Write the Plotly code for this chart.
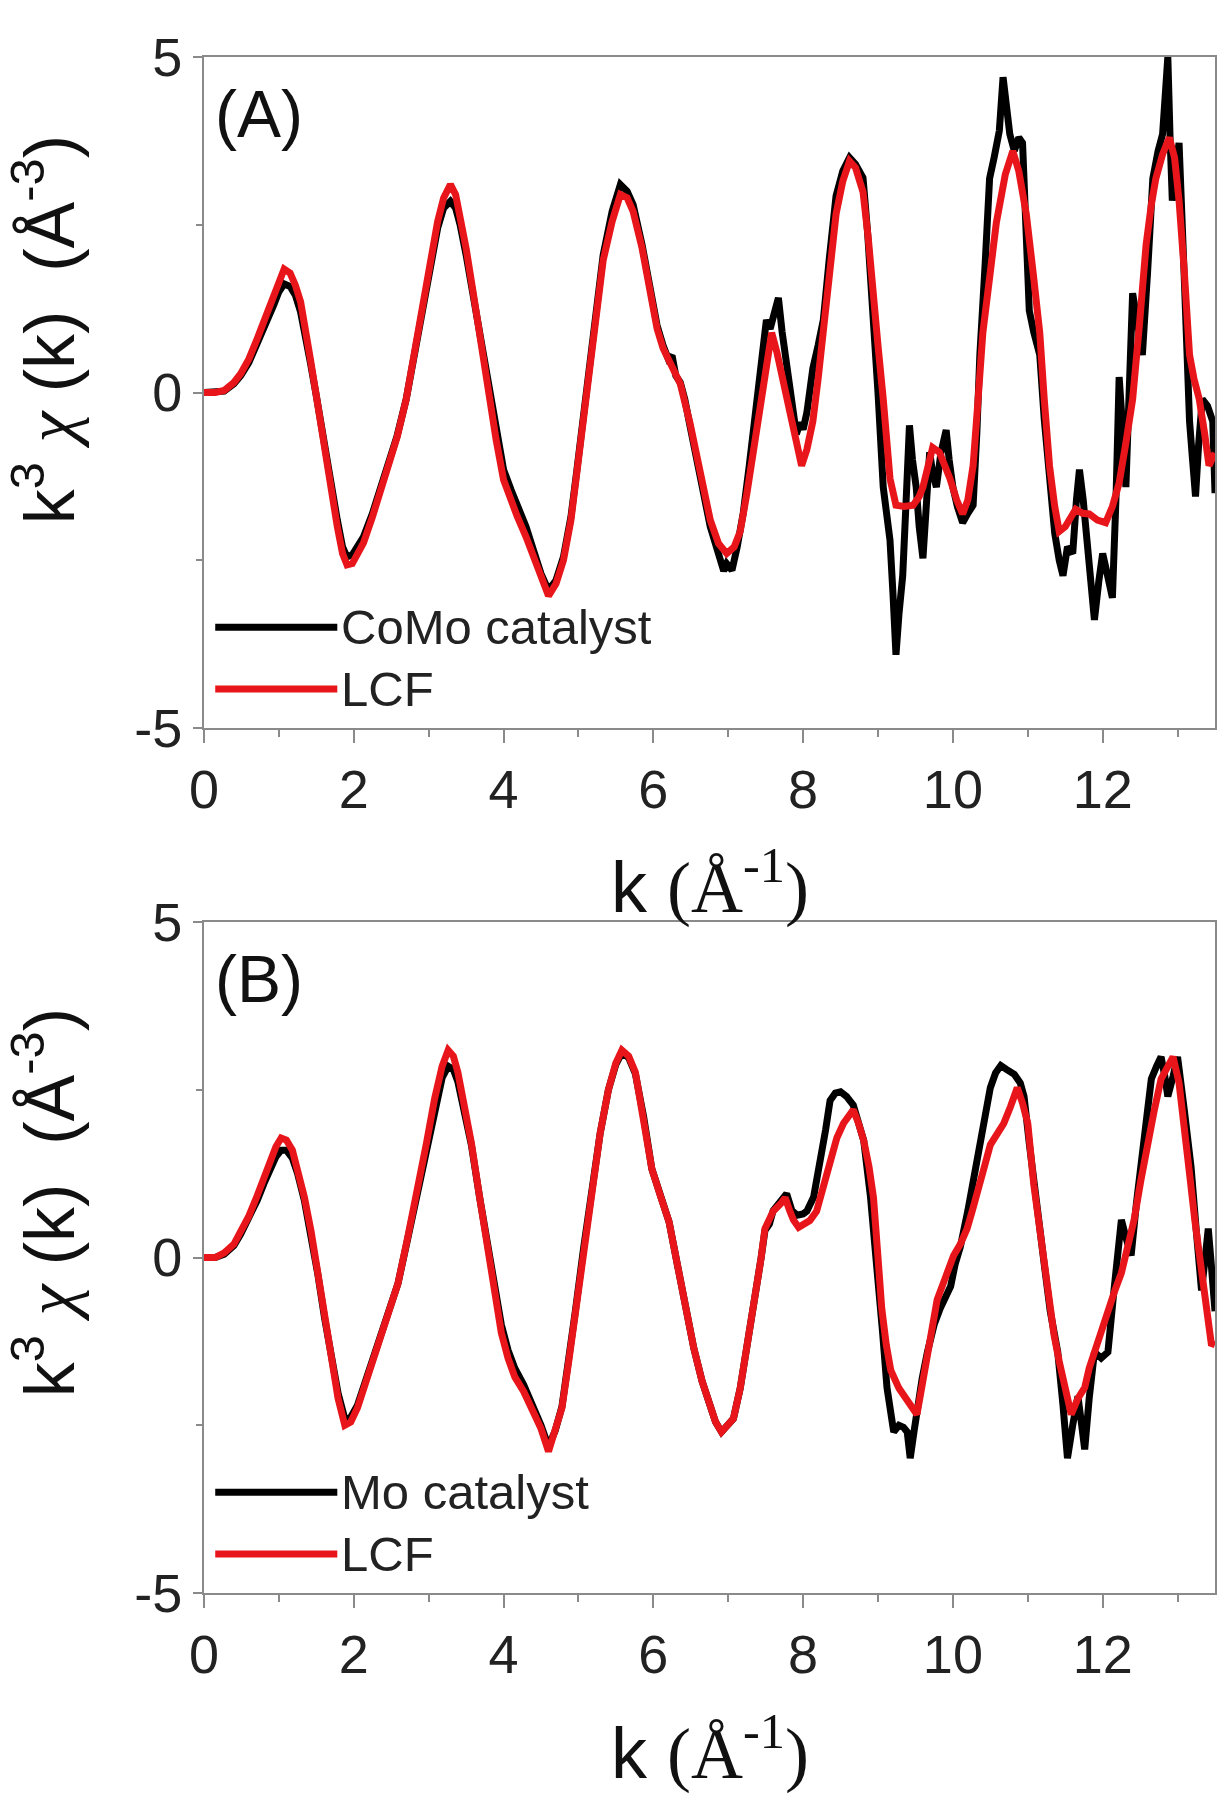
import plotly.graph_objects as go

# ---------------- Data ----------------
# Panel A: LCF
kA_fit = [0.0,0.15,0.27,0.4,0.49,0.6,0.71,0.82,0.93,1.0,1.07,1.15,1.22,1.29,1.36,1.42,1.5,1.6,1.7,1.78,1.85,1.91,1.98,2.05,2.13,2.25,2.36,2.47,2.58,2.7,2.8,2.9,3.02,3.12,3.2,3.29,3.36,3.42,3.5,3.6,3.7,3.82,3.9,4.0,4.1,4.18,4.3,4.4,4.5,4.6,4.7,4.8,4.9,4.98,5.08,5.16,5.25,5.33,5.45,5.56,5.65,5.73,5.85,5.96,6.05,6.13,6.25,6.36,6.49,6.58,6.67,6.76,6.87,6.98,7.08,7.16,7.25,7.33,7.4,7.47,7.53,7.58,7.65,7.73,7.8,7.87,7.93,7.98,8.05,8.13,8.2,8.27,8.35,8.44,8.53,8.62,8.7,8.8,8.87,8.93,9.0,9.07,9.12,9.16,9.24,9.35,9.47,9.55,9.6,9.67,9.73,9.82,9.9,9.96,10.05,10.13,10.2,10.27,10.33,10.4,10.5,10.58,10.7,10.8,10.88,10.98,11.07,11.16,11.22,11.29,11.36,11.42,11.5,11.57,11.64,11.73,11.82,11.93,12.04,12.13,12.22,12.31,12.4,12.49,12.58,12.65,12.71,12.8,12.89,12.96,13.02,13.09,13.16,13.22,13.29,13.36,13.42,13.5]
vA_fit = [0.0,0.0,0.03,0.15,0.28,0.5,0.8,1.12,1.45,1.7,1.84,1.78,1.6,1.35,0.95,0.5,-0.05,-0.8,-1.5,-2.0,-2.4,-2.57,-2.55,-2.42,-2.24,-1.85,-1.45,-1.05,-0.66,-0.1,0.53,1.2,1.97,2.55,2.9,3.1,2.95,2.63,2.15,1.45,0.7,-0.13,-0.7,-1.3,-1.62,-1.84,-2.15,-2.43,-2.75,-3.03,-2.85,-2.5,-1.9,-1.18,-0.25,0.53,1.3,1.97,2.55,2.95,2.9,2.7,2.15,1.45,0.95,0.66,0.4,0.13,-0.46,-0.95,-1.45,-1.9,-2.25,-2.4,-2.3,-2.07,-1.5,-0.89,-0.35,0.16,0.6,0.89,0.6,0.16,-0.2,-0.56,-0.85,-1.09,-0.85,-0.43,0.2,0.89,1.8,2.66,3.15,3.45,3.35,2.99,2.3,1.48,0.7,-0.1,-0.8,-1.28,-1.68,-1.7,-1.68,-1.55,-1.41,-1.1,-0.82,-0.89,-1.1,-1.28,-1.6,-1.81,-1.6,-1.09,-0.2,0.89,1.8,2.53,3.25,3.6,3.3,2.66,1.8,0.89,-0.1,-1.09,-1.7,-2.07,-2.0,-1.85,-1.74,-1.8,-1.81,-1.9,-1.94,-1.7,-1.35,-0.75,-0.1,1.0,2.2,2.8,3.19,3.55,3.8,3.5,2.86,1.8,0.56,0.2,-0.1,-0.6,-1.09,-0.9]

# Panel A: CoMo catalyst
kA_exp = [0.0,0.15,0.27,0.4,0.49,0.6,0.71,0.82,0.93,1.0,1.07,1.15,1.22,1.29,1.36,1.42,1.5,1.6,1.7,1.78,1.85,1.91,1.98,2.05,2.13,2.25,2.36,2.47,2.58,2.7,2.8,2.9,3.02,3.12,3.2,3.29,3.36,3.42,3.5,3.6,3.7,3.82,3.9,4.0,4.1,4.18,4.3,4.4,4.5,4.6,4.7,4.8,4.9,4.98,5.08,5.16,5.25,5.33,5.45,5.56,5.65,5.73,5.85,5.96,6.05,6.13,6.2,6.25,6.3,6.36,6.42,6.49,6.58,6.67,6.76,6.87,6.94,6.98,7.05,7.12,7.2,7.28,7.36,7.44,7.51,7.56,7.62,7.67,7.72,7.76,7.82,7.87,7.91,7.96,8.0,8.05,8.13,8.2,8.27,8.35,8.44,8.53,8.62,8.7,8.8,8.86,8.93,9.0,9.07,9.12,9.16,9.2,9.24,9.28,9.33,9.38,9.42,9.46,9.51,9.55,9.6,9.65,9.69,9.73,9.78,9.84,9.91,9.95,10.0,10.06,10.13,10.2,10.27,10.32,10.36,10.43,10.49,10.55,10.62,10.67,10.72,10.76,10.82,10.88,10.93,10.98,11.02,11.08,11.16,11.22,11.29,11.36,11.42,11.47,11.53,11.6,11.65,11.69,11.74,11.78,11.84,11.89,11.95,12.0,12.06,12.13,12.18,12.22,12.27,12.31,12.36,12.4,12.47,12.53,12.6,12.67,12.74,12.8,12.84,12.87,12.9,12.93,12.97,13.02,13.08,13.12,13.16,13.2,13.24,13.28,13.33,13.4,13.47,13.5]
vA_exp = [0.0,0.0,0.02,0.13,0.25,0.45,0.72,1.0,1.3,1.5,1.62,1.58,1.45,1.2,0.85,0.45,-0.05,-0.75,-1.4,-1.9,-2.3,-2.45,-2.42,-2.3,-2.15,-1.8,-1.42,-1.02,-0.64,-0.1,0.5,1.15,1.9,2.45,2.75,2.85,2.75,2.5,2.05,1.4,0.7,-0.1,-0.6,-1.15,-1.45,-1.65,-2.0,-2.35,-2.7,-2.95,-2.8,-2.45,-1.85,-1.15,-0.2,0.55,1.35,2.05,2.7,3.1,3.0,2.8,2.2,1.5,1.0,0.7,0.5,0.55,0.25,0.15,-0.1,-0.5,-0.95,-1.5,-2.0,-2.45,-2.66,-2.55,-2.65,-2.3,-1.8,-1.1,-0.4,0.3,1.08,0.95,1.2,1.41,0.9,0.56,0.0,-0.4,-0.62,-0.45,-0.55,-0.3,0.36,0.7,1.08,2.0,2.93,3.3,3.5,3.4,3.2,2.4,1.35,0.0,-1.41,-1.9,-2.2,-3.0,-3.91,-3.3,-2.73,-1.5,-0.49,-1.0,-1.41,-2.0,-2.47,-1.6,-0.89,-1.2,-1.41,-0.9,-0.56,-1.0,-1.41,-1.7,-1.94,-1.8,-1.68,-0.6,0.56,1.9,3.19,3.5,3.9,4.7,4.2,3.85,3.6,3.8,3.72,2.6,1.22,0.9,0.56,-0.4,-1.41,-2.1,-2.5,-2.73,-2.3,-2.4,-1.6,-1.15,-1.6,-2.07,-2.8,-3.39,-2.8,-2.4,-2.7,-3.06,-1.5,0.23,-0.6,-1.41,0.2,1.48,1.0,0.56,1.8,3.19,3.6,3.85,4.5,5.0,3.8,2.86,3.3,3.72,2.0,0.5,-0.43,-1.0,-1.55,-0.8,-0.1,-0.2,-0.43,-1.5]

# Panel B: LCF
kB_fit = [0.0,0.15,0.27,0.4,0.49,0.6,0.71,0.8,0.89,0.96,1.03,1.1,1.18,1.25,1.34,1.43,1.52,1.61,1.7,1.79,1.88,1.96,2.05,2.18,2.32,2.45,2.59,2.72,2.86,2.97,3.08,3.18,3.26,3.33,3.39,3.48,3.57,3.68,3.79,3.88,3.97,4.06,4.15,4.27,4.38,4.5,4.6,4.69,4.78,4.87,4.96,5.07,5.18,5.29,5.4,5.5,5.58,5.67,5.76,5.87,5.98,6.1,6.21,6.32,6.43,6.54,6.65,6.75,6.83,6.91,7.0,7.07,7.16,7.25,7.32,7.38,7.44,7.49,7.6,7.7,7.76,7.82,7.87,7.94,8.0,8.09,8.18,8.27,8.36,8.45,8.54,8.61,8.67,8.74,8.81,8.88,8.94,9.0,9.05,9.11,9.17,9.28,9.39,9.46,9.52,9.59,9.66,9.73,9.79,9.9,10.01,10.1,10.19,10.26,10.33,10.42,10.5,10.59,10.68,10.77,10.86,10.93,11.0,11.08,11.15,11.22,11.29,11.35,11.42,11.49,11.58,11.67,11.76,11.82,11.89,11.98,12.07,12.16,12.25,12.34,12.42,12.51,12.6,12.69,12.78,12.86,12.94,13.02,13.09,13.16,13.23,13.3,13.36,13.42,13.45,13.5]
vB_fit = [0.0,0.0,0.07,0.2,0.39,0.62,0.92,1.2,1.45,1.65,1.78,1.75,1.6,1.32,0.9,0.39,-0.25,-0.92,-1.55,-2.1,-2.5,-2.45,-2.24,-1.8,-1.32,-0.85,-0.39,0.3,1.05,1.7,2.37,2.85,3.09,3.0,2.76,2.25,1.71,0.9,0.13,-0.5,-1.12,-1.5,-1.78,-2.0,-2.24,-2.55,-2.89,-2.6,-2.24,-1.55,-0.79,0.15,1.05,1.85,2.5,2.9,3.09,3.0,2.76,2.1,1.32,0.9,0.53,-0.1,-0.79,-1.35,-1.84,-2.2,-2.45,-2.6,-2.5,-2.4,-1.95,-1.35,-0.9,-0.43,0.0,0.43,0.69,0.8,0.89,0.7,0.56,0.45,0.49,0.55,0.69,1.05,1.48,1.78,2.0,2.12,2.2,2.0,1.74,1.35,0.89,0.0,-0.76,-1.3,-1.68,-1.95,-2.14,-2.25,-2.34,-1.9,-1.41,-1.0,-0.63,-0.3,0.03,0.2,0.43,0.7,0.95,1.35,1.68,1.85,2.0,2.25,2.53,2.3,2.0,1.09,0.5,-0.1,-0.65,-1.15,-1.55,-1.94,-2.34,-2.1,-1.94,-1.65,-1.41,-1.1,-0.76,-0.5,-0.23,0.15,0.56,1.15,1.74,2.2,2.66,2.85,2.99,2.6,2.0,1.25,0.56,0.0,-0.43,-1.0,-1.28,-1.3]

# Panel B: Mo catalyst
kB_exp = [0.0,0.15,0.27,0.4,0.49,0.6,0.71,0.8,0.89,0.96,1.03,1.1,1.18,1.25,1.34,1.43,1.52,1.61,1.7,1.79,1.88,1.96,2.05,2.18,2.32,2.45,2.59,2.72,2.86,2.97,3.08,3.18,3.26,3.33,3.39,3.48,3.57,3.68,3.79,3.88,3.97,4.06,4.15,4.27,4.38,4.5,4.6,4.69,4.78,4.87,4.96,5.07,5.18,5.29,5.4,5.5,5.58,5.67,5.76,5.87,5.98,6.1,6.21,6.32,6.43,6.54,6.65,6.75,6.83,6.91,7.0,7.07,7.16,7.25,7.32,7.38,7.44,7.49,7.55,7.6,7.7,7.78,7.85,7.92,8.0,8.05,8.14,8.23,8.3,8.36,8.43,8.5,8.58,8.67,8.74,8.81,8.9,8.99,9.06,9.12,9.17,9.21,9.28,9.34,9.39,9.43,9.48,9.52,9.59,9.66,9.75,9.83,9.9,9.97,10.03,10.1,10.2,10.27,10.33,10.42,10.5,10.57,10.64,10.72,10.82,10.9,10.95,11.02,11.08,11.15,11.22,11.3,11.4,11.47,11.53,11.6,11.67,11.72,11.76,11.82,11.89,11.98,12.07,12.15,12.25,12.31,12.38,12.45,12.52,12.58,12.65,12.72,12.78,12.83,12.87,12.94,13.0,13.09,13.18,13.25,13.32,13.37,13.41,13.45,13.48,13.5]
vB_exp = [0.0,0.0,0.05,0.18,0.35,0.58,0.85,1.1,1.32,1.5,1.6,1.6,1.48,1.25,0.85,0.35,-0.25,-0.9,-1.5,-2.02,-2.4,-2.38,-2.2,-1.78,-1.3,-0.85,-0.39,0.28,1.0,1.62,2.25,2.68,2.85,2.8,2.62,2.2,1.68,0.9,0.15,-0.45,-1.0,-1.38,-1.65,-1.9,-2.18,-2.5,-2.82,-2.58,-2.22,-1.55,-0.79,0.15,1.05,1.85,2.5,2.88,3.05,2.98,2.74,2.1,1.32,0.9,0.53,-0.1,-0.79,-1.35,-1.84,-2.2,-2.45,-2.6,-2.5,-2.4,-1.95,-1.35,-0.9,-0.43,0.0,0.4,0.5,0.7,0.85,0.95,0.7,0.63,0.65,0.69,0.9,1.41,1.9,2.34,2.45,2.47,2.4,2.27,2.0,1.74,0.9,-0.1,-1.1,-1.94,-2.3,-2.6,-2.5,-2.53,-2.6,-2.99,-2.6,-2.27,-1.8,-1.41,-1.0,-0.76,-0.6,-0.43,-0.1,0.16,0.7,1.1,1.48,2.0,2.53,2.75,2.86,2.8,2.73,2.6,2.4,1.7,1.09,0.5,-0.1,-0.8,-1.41,-2.2,-2.99,-2.5,-2.07,-2.5,-2.86,-2.1,-1.41,-1.5,-1.41,-0.5,0.56,0.3,0.03,0.8,1.48,2.1,2.66,2.85,2.99,2.7,2.4,2.7,2.99,2.2,1.35,0.4,-0.49,0.0,0.43,-0.1,-0.43,-0.8]

panel_labels = ["(A)", "(B)"]
legend_names_A = ["CoMo catalyst", "LCF"]
legend_names_B = ["Mo catalyst", "LCF"]
x_ticks = [0, 2, 4, 6, 8, 10, 12]
y_tickvals = [-5, 0, 5]
y_ticktext = ["-5", "0", "5"]

# ---------------- Styles ----------------
BLACK = "#000000"
RED = "#e8161b"
AX = "#8a8a8a"
FONT = "Liberation Sans, Arial, sans-serif"
SERIF = "Liberation Serif, Times New Roman, serif"
LW = 7

fig = go.Figure()
fig.add_trace(go.Scatter(x=kA_exp, y=vA_exp, mode="lines", line=dict(color=BLACK, width=LW),
                         name=legend_names_A[0], xaxis="x", yaxis="y", showlegend=False))
fig.add_trace(go.Scatter(x=kA_fit, y=vA_fit, mode="lines", line=dict(color=RED, width=LW),
                         name=legend_names_A[1], xaxis="x", yaxis="y", showlegend=False))
fig.add_trace(go.Scatter(x=kB_exp, y=vB_exp, mode="lines", line=dict(color=BLACK, width=LW),
                         name=legend_names_B[0], xaxis="x2", yaxis="y2", showlegend=False))
fig.add_trace(go.Scatter(x=kB_fit, y=vB_fit, mode="lines", line=dict(color=RED, width=LW),
                         name=legend_names_B[1], xaxis="x2", yaxis="y2", showlegend=False))

def xax(anchor):
    return dict(range=[0, 13.5], tickmode="array", tickvals=x_ticks, ticks="outside",
                ticklen=13, tickwidth=2, tickcolor=AX, showline=True, linecolor=AX, linewidth=2,
                mirror=True, showgrid=False, zeroline=False, anchor=anchor,
                tickfont=dict(family=FONT, size=54, color="#222"),
                minor=dict(dtick=1, tick0=0, ticks="outside", ticklen=7, tickwidth=2, tickcolor=AX),
                domain=[0, 1])

def yax(anchor, dom):
    return dict(range=[-5, 5], tickmode="array", tickvals=y_tickvals, ticktext=y_ticktext,
                ticks="outside", ticklen=9, tickwidth=2, tickcolor=AX, showline=True, linecolor=AX,
                linewidth=2, mirror=True, showgrid=False, zeroline=False, anchor=anchor,
                tickfont=dict(family=FONT, size=54, color="#222"),
                minor=dict(dtick=2.5, tick0=0, ticks="outside", ticklen=6, tickwidth=2, tickcolor=AX),
                domain=dom)

W, H = 1225, 1796
ml, mr, mt, mb = 204, 8, 57, 203
ph = H - mt - mb
def py(pix):
    return (H - mb - pix) / ph
def px(pix):
    return (pix - ml) / (W - ml - mr)

fig.update_layout(
    width=W, height=H, margin=dict(l=ml, r=mr, t=mt, b=mb),
    paper_bgcolor="white", plot_bgcolor="white",
    xaxis=xax("y"), yaxis=yax("x", [py(728), 1.0]),
    xaxis2=xax("y2"), yaxis2=yax("x2", [0.0, py(922)]),
    showlegend=False,
)

ytitle = ("k<sup>3</sup> <span style=\"font-family:%s\"><i>χ</i></span> (k)  (Å<sup>-3</sup>)" % SERIF)
xtitle = ("k <span style=\"font-family:%s\">(Å<sup>-1</sup>)</span>" % SERIF)
ann = []
for yc in [py(330), py(1203)]:
    ann.append(dict(text=ytitle, xref="paper", yref="paper", x=px(44), y=yc, textangle=-90,
                    showarrow=False, font=dict(family=FONT, size=70, color="#111"),
                    xanchor="center", yanchor="middle"))
for yc in [py(882), py(1748)]:
    ann.append(dict(text=xtitle, xref="paper", yref="paper", x=0.5, y=yc,
                    showarrow=False, font=dict(family=FONT, size=72, color="#111"),
                    xanchor="center", yanchor="middle"))
for lab, xr, yr in [(panel_labels[0], "x", "y"), (panel_labels[1], "x2", "y2")]:
    ann.append(dict(text=lab, xref=xr, yref=yr, x=0.12, y=4.15, showarrow=False,
                    font=dict(family=FONT, size=66, color="#111"), xanchor="left", yanchor="middle"))

shapes = []
for names, xr, yr in [(legend_names_A, "x", "y"), (legend_names_B, "x2", "y2")]:
    for i, (nm, col) in enumerate(zip(names, [BLACK, RED])):
        yy = -3.5 - 0.92 * i
        shapes.append(dict(type="line", xref=xr, yref=yr, x0=0.15, x1=1.78, y0=yy, y1=yy,
                           line=dict(color=col, width=7)))
        ann.append(dict(text=nm, xref=xr, yref=yr, x=1.8, y=yy, showarrow=False,
                        font=dict(family=FONT, size=49, color="#222"), xanchor="left", yanchor="middle"))

fig.update_layout(annotations=ann, shapes=shapes)
fig.write_html("out.html")
